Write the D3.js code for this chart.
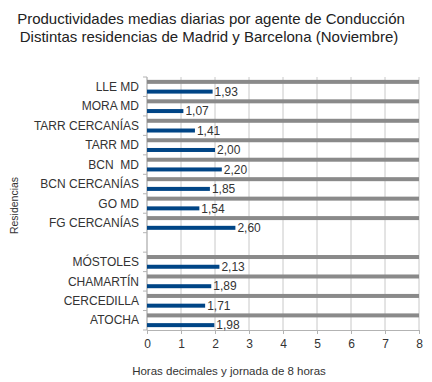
<!DOCTYPE html>
<html>
<head>
<meta charset="utf-8">
<script src="https://cdn.jsdelivr.net/npm/d3@7"></script>
<style>
  body { margin: 0; background: #fff; }
  svg { font-family: "Liberation Sans", Arial, sans-serif; }
  text { white-space: pre; }
</style>
</head>
<body>
<svg id="chart" width="432" height="382"></svg>
<script>
// Residencias (top to bottom), empty slot separates Barcelona and Madrid groups
const residencias = ["LLE MD", "MORA MD", "TARR CERCANÍAS", "TARR MD", "BCN  MD", "BCN CERCANÍAS",
  "GO MD", "FG CERCANÍAS", "", "MÓSTOLES", "CHAMARTÍN", "CERCEDILLA", "ATOCHA"];
const productividad = [1.93, 1.07, 1.41, 2.00, 2.20, 1.85, 1.54, 2.60, null, 2.13, 1.89, 1.71, 1.98];
const jornada = [8, 8, 8, 8, 8, 8, 8, 8, null, 8, 8, 8, 8];
const xTicks = [0, 1, 2, 3, 4, 5, 6, 7, 8];

const svg = d3.select("#chart");
const margin = { top: 77, left: 147, right: 13, bottom: 52 };
const width = 432 - margin.left - margin.right;
const height = 382 - margin.top - margin.bottom;

const x = d3.scaleLinear().domain([0, 8]).range([margin.left, margin.left + width]);
const y = d3.scaleBand().domain(d3.range(residencias.length)).range([margin.top, margin.top + height]);
const sub = d3.scaleBand().domain(["jornada", "valor"]).range([0, y.bandwidth()]);
const barH = 4;

// Title
svg.append("text")
  .attr("x", 211).attr("y", 24)
  .attr("text-anchor", "middle")
  .attr("font-size", "15px")
  .attr("fill", "#222")
  .text("Productividades medias diarias por agente de Conducción");
svg.append("text")
  .attr("x", 209).attr("y", 42)
  .attr("text-anchor", "middle")
  .attr("font-size", "15px")
  .attr("fill", "#222")
  .text("Distintas residencias de Madrid y Barcelona (Noviembre)");

// Vertical gridlines
svg.append("g")
  .selectAll("line")
  .data(xTicks)
  .join("line")
  .attr("x1", d => x(d)).attr("x2", d => x(d))
  .attr("y1", margin.top).attr("y2", margin.top + height)
  .attr("stroke", "#c8c8c8")
  .attr("stroke-width", 1);

// Bottom axis
const xAxis = svg.append("g")
  .attr("transform", `translate(0,${margin.top + height})`)
  .call(d3.axisBottom(x).tickValues(xTicks).tickFormat(d3.format("d")).tickSize(4).tickPadding(5));
xAxis.select(".domain").attr("stroke", "#b3b3b3");
xAxis.selectAll(".tick line").attr("stroke", "#b3b3b3");
xAxis.selectAll("text").attr("font-size", "12px").attr("fill", "#333").attr("font-family", null);

// Left axis: category labels with ticks at band boundaries
svg.append("line")
  .attr("x1", margin.left).attr("x2", margin.left)
  .attr("y1", margin.top).attr("y2", margin.top + height)
  .attr("stroke", "#b3b3b3");
svg.append("g")
  .selectAll("line")
  .data(d3.range(residencias.length + 1))
  .join("line")
  .attr("x1", margin.left - 4).attr("x2", margin.left)
  .attr("y1", i => margin.top + i * y.step()).attr("y2", i => margin.top + i * y.step())
  .attr("stroke", "#b3b3b3");
svg.append("g")
  .selectAll("text")
  .data(residencias)
  .join("text")
  .attr("x", margin.left - 8)
  .attr("y", (d, i) => y(i) + y.bandwidth() / 2)
  .attr("dy", "0.35em")
  .attr("text-anchor", "end")
  .attr("font-size", "12px")
  .attr("fill", "#333")
  .text(d => d);

// Jornada bars (gray)
svg.append("g")
  .selectAll("rect")
  .data(jornada.map((v, i) => ({ v, i })).filter(d => d.v != null))
  .join("rect")
  .attr("x", x(0))
  .attr("y", d => y(d.i) + sub("jornada") + sub.bandwidth() / 2 - barH / 2)
  .attr("width", d => x(d.v) - x(0))
  .attr("height", barH)
  .attr("fill", "#8a8a8a");

// Productividad bars (blue)
const vals = productividad.map((v, i) => ({ v, i })).filter(d => d.v != null);
svg.append("g")
  .selectAll("rect")
  .data(vals)
  .join("rect")
  .attr("x", x(0))
  .attr("y", d => y(d.i) + sub("valor") + sub.bandwidth() / 2 - barH / 2)
  .attr("width", d => x(d.v) - x(0))
  .attr("height", barH)
  .attr("fill", "#004586");

// Value labels
const fmt = d => d3.format(".2f")(d).replace(".", ",");
svg.append("g")
  .selectAll("text")
  .data(vals)
  .join("text")
  .attr("x", d => x(d.v) + 2)
  .attr("y", d => y(d.i) + sub("valor") + sub.bandwidth() / 2)
  .attr("dy", "0.35em")
  .attr("font-size", "12px")
  .attr("fill", "#333")
  .text(d => fmt(d.v));

// Axis titles
svg.append("text")
  .attr("x", 229).attr("y", 375)
  .attr("text-anchor", "middle")
  .attr("font-size", "11.5px")
  .attr("fill", "#333")
  .text("Horas decimales y jornada de 8 horas");
svg.append("text")
  .attr("transform", `translate(18,${margin.top + height / 2 + 2}) rotate(-90)`)
  .attr("text-anchor", "middle")
  .attr("font-size", "10.5px")
  .attr("fill", "#333")
  .text("Residencias");
</script>
</body>
</html>
